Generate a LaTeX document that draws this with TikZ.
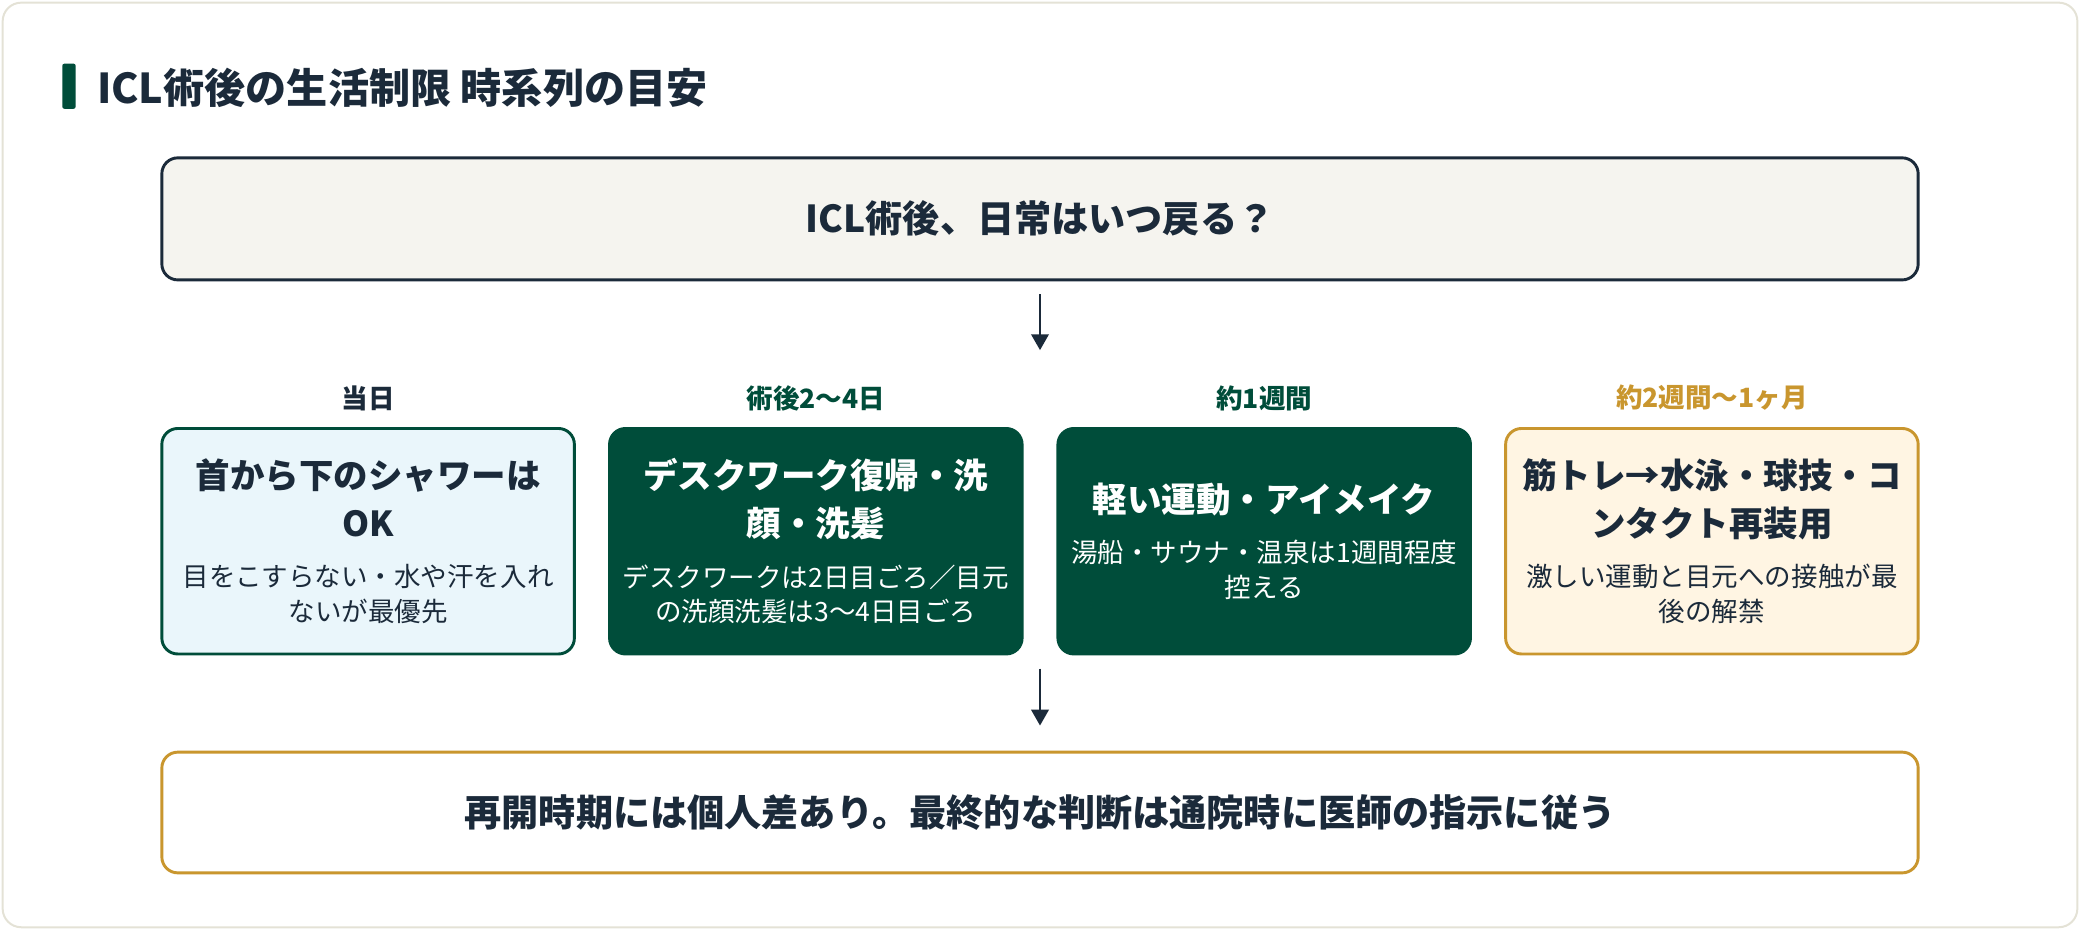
\documentclass[tikz,border=0pt]{standalone}
\usepackage{fontspec}
\usetikzlibrary{arrows.meta}
\setmainfont{Noto Sans CJK JP}
\definecolor{navy}{HTML}{1B2A3A}
\definecolor{dgreen}{HTML}{004D3A}
\definecolor{gold}{HTML}{C9962E}
\definecolor{paper}{HTML}{F5F4EF}
\definecolor{lblue}{HTML}{EAF6FB}
\definecolor{lcream}{HTML}{FFF5E3}
\definecolor{frame}{HTML}{E4E2D6}
\newcommand{\hdf}{\bfseries\fontsize{26}{26}\selectfont}
\begin{document}
\begin{tikzpicture}[x=1pt,y=-1pt,
  box/.style={rounded corners=12pt,line width=2.2pt,align=center,inner sep=0pt},
  col/.style={box,minimum width=311pt,minimum height=170pt,text width=300pt,font=\fontsize{20}{26}\selectfont},
  lab/.style={font=\bfseries\fontsize{20}{22}\selectfont},
  arr/.style={-{Triangle[length=12pt,width=13pt]},line width=2.2pt,draw=navy}]
\useasboundingbox (0,0) rectangle (1568,701);
\draw[frame,fill=white,line width=1.5pt,rounded corners=14pt] (2,2) rectangle (1566,699);
\fill[dgreen,rounded corners=1.5pt] (47,48) rectangle (57,82);
\node[anchor=west,text=navy,font=\bfseries\fontsize{31}{34}\selectfont,inner sep=0pt] (title) at (73,66) {ICL術後の生活制限 時系列の目安};
\node[box,draw=navy,fill=paper,minimum width=1324pt,minimum height=92pt,text=navy,font=\bfseries\fontsize{28}{32}\selectfont] (top) at (784,165) {ICL術後、日常はいつ戻る？};
\node[col,draw=dgreen,fill=lblue,text=navy] (b1) at (277.5,408) {{\hdf 首から下のシャワーは}\\[10pt]{\hdf OK}\\[12pt]目をこすらない・水や汗を入れ\\ないが最優先};
\node[col,draw=dgreen,fill=dgreen,text=white] (b2) at (615,408) {{\hdf デスクワーク復帰・洗}\\[10pt]{\hdf 顔・洗髪}\\[12pt]デスクワークは2日目ごろ／目元\\の洗顔洗髪は3〜4日目ごろ};
\node[col,draw=dgreen,fill=dgreen,text=white] (b3) at (953,408) {{\hdf 軽い運動・アイメイク}\\[12pt]湯船・サウナ・温泉は1週間程度\\控える};
\node[col,draw=gold,fill=lcream,text=navy] (b4) at (1290.5,408) {{\hdf 筋トレ→水泳・球技・コ}\\[10pt]{\hdf ンタクト再装用}\\[12pt]激しい運動と目元への接触が最\\後の解禁};
\node[lab,text=navy] (l1) at (277.5,300) {当日};
\node[lab,text=dgreen] (l2) at (615,300) {術後2〜4日};
\node[lab,text=dgreen] (l3) at (953,300) {約1週間};
\node[lab,text=gold] (l4) at (1290.5,300) {約2週間〜1ヶ月};
\node[box,draw=gold,fill=white,minimum width=1324pt,minimum height=91pt,text=navy,font=\bfseries\fontsize{28}{32}\selectfont] (bot) at (784,612.5) {再開時期には個人差あり。最終的な判断は通院時に医師の指示に従う};
\coordinate (a1s) at (784,222); \coordinate (a1e) at (784,264);
\coordinate (a2s) at (784,504); \coordinate (a2e) at (784,547);
\draw[arr] (a1s) -- (a1e);
\draw[arr] (a2s) -- (a2e);
\end{tikzpicture}
\end{document}
